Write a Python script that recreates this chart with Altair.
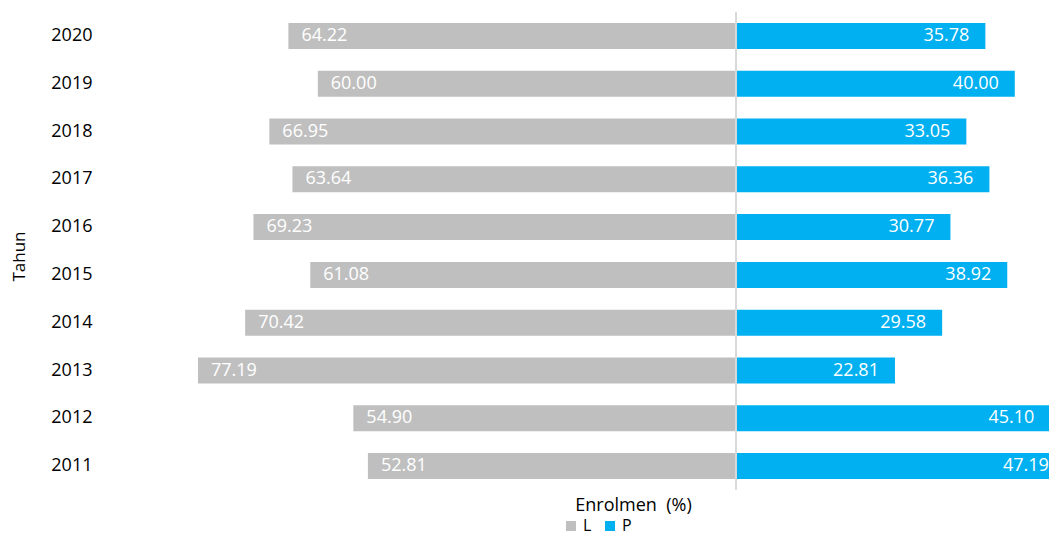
import altair as alt
import pandas as pd

years = [2020, 2019, 2018, 2017, 2016, 2015, 2014, 2013, 2012, 2011]
laki = [64.22, 60.00, 66.95, 63.64, 69.23, 61.08, 70.42, 77.19, 54.90, 52.81]
perempuan = [35.78, 40.00, 33.05, 36.36, 30.77, 38.92, 29.58, 22.81, 45.10, 47.19]
groups = ["L", "P"]
colors = ["#bfbfbf", "#00b0f0"]

rows = []
for y, l, p in zip(years, laki, perempuan):
    rows.append({"Tahun": y, "g": "L", "v": l, "s": -l})
    rows.append({"Tahun": y, "g": "P", "v": p, "s": p})
df = pd.DataFrame(rows)

FONT = "Open Sans"
xscale = alt.Scale(domain=[-90.53, 44.91], nice=False, zero=False)
yenc = alt.Y("Tahun:O", sort="descending",
             scale=alt.Scale(paddingInner=0.456, paddingOuter=0.228),
             axis=alt.Axis(title="Tahun", ticks=False, domain=False, labelPadding=13,
                           labelFontSize=18, labelColor="#000000", labelFont=FONT,
                           titleFont=FONT, titleFontSize=17, titleFontWeight="normal",
                           titleColor="#000000", titleAngle=270, titleX=-86, titleY=244,
                           titleAlign="center", titleBaseline="middle"))

base = alt.Chart(df)

bars = base.mark_bar(clip=True).encode(
    x=alt.X("s:Q", scale=xscale,
            axis=alt.Axis(title="Enrolmen\u00a0 (%)", labels=False, ticks=False, domain=False,
                          grid=False, titleFont=FONT, titleFontSize=18,
                          titleFontWeight="normal", titleColor="#000000",
                          titleX=528, titleY=15, titleAlign="center",
                          titleBaseline="middle")),
    y=yenc,
    color=alt.Color("g:N", scale=alt.Scale(domain=groups, range=colors),
                    legend=alt.Legend(title=None, orient="none", direction="horizontal",
                                      legendX=458, legendY=506, padding=0,
                                      symbolType="square", symbolSize=100,
                                      symbolStrokeWidth=0, labelFontSize=16,
                                      labelFont=FONT, labelColor="#000000",
                                      labelOffset=4, columnPadding=10)),
)

rule = alt.Chart(pd.DataFrame({"z": [0]})).mark_rule(color="#d9d9d9", strokeWidth=2).encode(
    x=alt.X("z:Q", scale=xscale)
)

lab_l = base.transform_filter(alt.datum.g == "L").mark_text(
    align="left", baseline="middle", dx=13, color="white", fontSize=18, font=FONT
).encode(x=alt.X("s:Q", scale=xscale), y=yenc, text=alt.Text("v:Q", format=".2f"))

lab_p = base.transform_filter(alt.datum.g == "P").mark_text(
    align="right", baseline="middle", dx=-16, color="white", fontSize=18, font=FONT
).encode(x=alt.X("s:Q", scale=xscale), y=yenc, text=alt.Text("v:Q", format=".2f"))

chart = alt.layer(bars, rule, lab_l, lab_p).properties(
    width=944, height=478,
    autosize=alt.AutoSizeParams(type="none"),
    padding={"left": 97, "top": 4, "right": 0, "bottom": 44},
).configure_view(stroke=None)

chart.save("out.html", embed_options={"renderer": "svg", "actions": False})
